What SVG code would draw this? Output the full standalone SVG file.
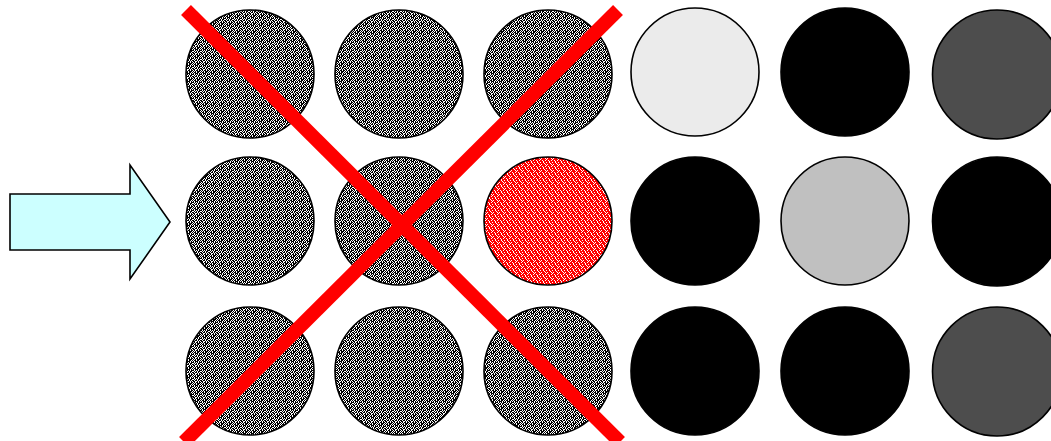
<svg xmlns="http://www.w3.org/2000/svg" width="1051" height="441" viewBox="0 0 1051 441">
<style>
.c{stroke:#000;stroke-width:1.6}
.tex{fill:url(#noise)}
.red{fill:url(#rnoise)}
.light{fill:#ebebeb}
.blk{fill:#000}
.mid{fill:#c0c0c0}
.dark{fill:#4d4d4d}
.x{stroke:#ff0000;stroke-width:14;stroke-linecap:butt;fill:none}
</style>
<defs>
<pattern id="noise" patternUnits="userSpaceOnUse" width="8" height="8">
<rect width="8" height="8" fill="#fff"/>
<path shape-rendering="crispEdges" fill="#000" d="M0 0h1v1h-1zM2 0h2v1h-2zM5 0h2v1h-2zM1 1h1v1h-1zM3 1h3v1h-3zM7 1h1v1h-1zM0 2h2v1h-2zM3 2h1v1h-1zM5 2h1v1h-1zM7 2h1v1h-1zM2 3h1v1h-1zM4 3h1v1h-1zM6 3h2v1h-2zM0 4h2v1h-2zM3 4h2v1h-2zM6 4h1v1h-1zM1 5h2v1h-2zM5 5h1v1h-1zM7 5h1v1h-1zM0 6h1v1h-1zM2 6h1v1h-1zM4 6h2v1h-2zM7 6h1v1h-1zM1 7h1v1h-1zM3 7h1v1h-1zM5 7h3v1h-3z"/>
</pattern>
<pattern id="rnoise" patternUnits="userSpaceOnUse" width="6" height="6">
<rect width="6" height="6" fill="#ff0000"/>
<path shape-rendering="crispEdges" fill="#fff" d="M0 0h1v1h-1zM3 0h1v1h-1zM4 1h1v1h-1zM1 2h1v1h-1zM5 2h1v1h-1zM0 3h1v1h-1zM2 4h1v1h-1zM5 4h1v1h-1zM3 5h1v1h-1z"/>
</pattern>
</defs>
<rect width="1051" height="441" fill="#fff"/>
<g id="arrow">
<path d="M10 194H130V165L170 222L130 279V250H10Z" fill="#ccffff" stroke="#000" stroke-width="1.6" stroke-linejoin="miter"/>
</g>
<g id="r1c1"><circle class="c tex" cx="250" cy="74" r="64"/></g>
<g id="r1c2"><circle class="c tex" cx="399" cy="74" r="64"/></g>
<g id="r1c3"><circle class="c tex" cx="548" cy="74" r="64"/></g>
<g id="r1c4"><circle class="c light" cx="695" cy="72" r="64"/></g>
<g id="r1c5"><circle class="c blk" cx="845" cy="72" r="64"/></g>
<g id="r1c6"><circle class="c dark" cx="997" cy="74.5" r="64.5"/></g>
<g id="r2c1"><circle class="c tex" cx="250" cy="221" r="64"/></g>
<g id="r2c2"><circle class="c tex" cx="399" cy="221" r="64"/></g>
<g id="r2c3"><circle class="c red" cx="548" cy="221" r="64"/></g>
<g id="r2c4"><circle class="c blk" cx="695" cy="221" r="64"/></g>
<g id="r2c5"><circle class="c mid" cx="845" cy="221" r="64"/></g>
<g id="r2c6"><circle class="c blk" cx="997" cy="221.5" r="64.5"/></g>
<g id="r3c1"><circle class="c tex" cx="250" cy="371" r="64"/></g>
<g id="r3c2"><circle class="c tex" cx="399" cy="371" r="64"/></g>
<g id="r3c3"><circle class="c tex" cx="548" cy="371" r="64"/></g>
<g id="r3c4"><circle class="c blk" cx="695" cy="371" r="64"/></g>
<g id="r3c5"><circle class="c blk" cx="845" cy="371" r="64"/></g>
<g id="r3c6"><circle class="c dark" cx="997" cy="371.5" r="64.5"/></g>
<g id="connectors">
<line class="x" x1="186" y1="10" x2="620" y2="442"/>
<line class="x" x1="618" y1="10" x2="184" y2="442"/>
</g>
</svg>
